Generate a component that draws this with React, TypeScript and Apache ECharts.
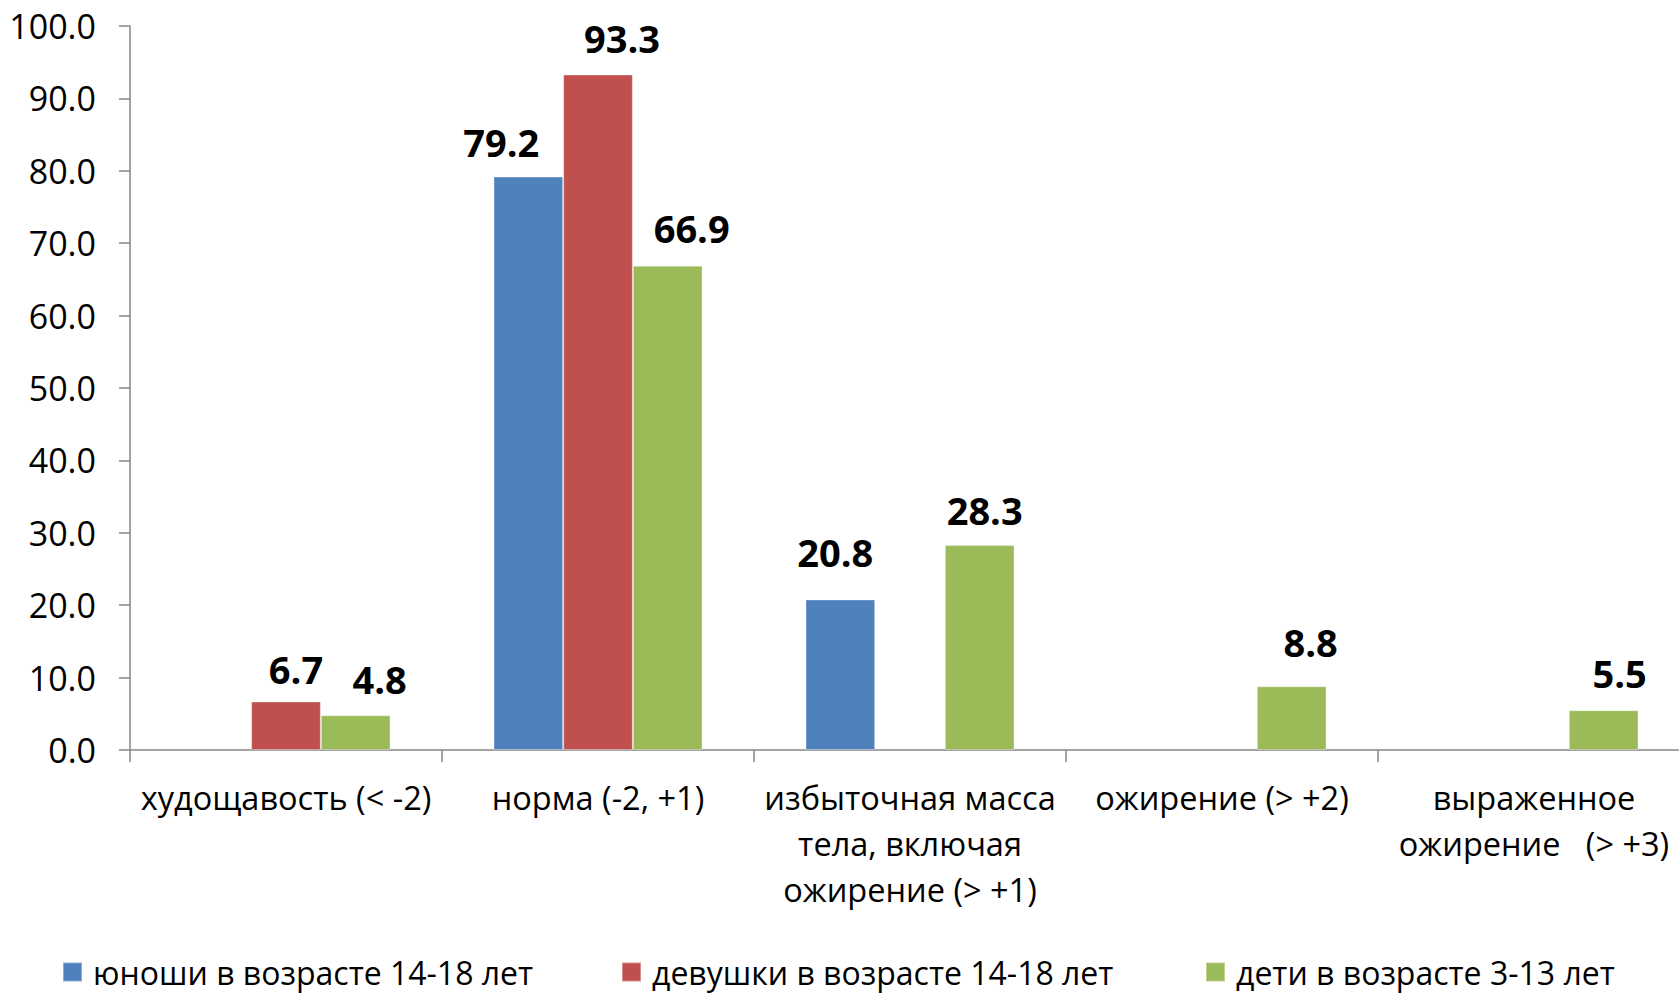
import React, { useEffect, useRef } from "react";
import * as echarts from "echarts";

const categories = [
  "худощавость (< -2)",
  "норма (-2, +1)",
  "избыточная масса\nтела, включая\nожирение (> +1)",
  "ожирение (> +2)",
  "выраженное\nожирение   (> +3)",
];
const seriesNames = [
  "юноши в возрасте 14-18 лет",
  "девушки в возрасте 14-18 лет",
  "дети в возрасте 3-13 лет",
];
const boys: (number | null)[] = [null, 79.2, 20.8, null, null];
const girls: (number | null)[] = [6.7, 93.3, null, null, null];
const children: (number | null)[] = [4.8, 66.9, 28.3, 8.8, 5.5];
const colors = ["#4F81BD", "#C0504D", "#9BBB59"];
const legendLefts = [62, 621, 1205];

// label nudges (px) as placed in the original chart
const labelOffsets: [number, number][][] = [
  [[0, 0], [-27, 1], [-5, -11], [0, 0], [0, 0]],
  [[10, 4], [24, -1], [0, 0], [0, 0], [0, 0]],
  [[24, 0], [24, -2], [5, 1], [19, -8], [16, -1]],
];

const FONT = "'Open Sans', 'Noto Sans', sans-serif";

export default function App() {
  const ref = useRef<HTMLDivElement>(null);
  useEffect(() => {
    if (!ref.current) return;
    const chart = echarts.init(ref.current, null, { renderer: "svg" });
    const values = [boys, girls, children];
    chart.setOption({
      animation: false,
      textStyle: { fontFamily: FONT },
      grid: { left: 130, right: 0, top: 26, bottom: 244, containLabel: false },
      legend: seriesNames.map((n, i) => ({
        data: [n],
        left: legendLefts[i],
        top: 955,
        padding: 0,
        icon: "rect",
        itemWidth: 19,
        itemHeight: 19,
        itemGap: 0,
        textStyle: { fontFamily: FONT, fontSize: 32, lineHeight: 34, color: "#000", padding: [0, 0, 0, 6] },
      })),
      xAxis: {
        type: "category",
        data: categories,
        axisLine: { lineStyle: { color: "#868686", width: 1.5 } },
        axisTick: { show: true, length: 12, alignWithLabel: false, lineStyle: { color: "#868686", width: 1.5 } },
        axisLabel: {
          interval: 0,
          margin: 24,
          fontFamily: FONT,
          fontSize: 32.5,
          lineHeight: 46,
          color: "#000",
          align: "center",
        },
        splitLine: { show: false },
      },
      yAxis: {
        type: "value",
        min: 0,
        max: 100,
        interval: 10,
        axisLine: { show: true, lineStyle: { color: "#868686", width: 1.5 } },
        axisTick: { show: true, length: 11, lineStyle: { color: "#868686", width: 1.5 } },
        axisLabel: {
          margin: 34,
          fontFamily: FONT,
          fontSize: 34,
          color: "#000",
          formatter: (v: number) => v.toFixed(1),
        },
        splitLine: { show: false },
      },
      series: seriesNames.map((n, i) => ({
        name: n,
        type: "bar",
        data: values[i].map((v, j) => ({
          value: v,
          label: { offset: labelOffsets[i][j] },
        })),
        barGap: "0%",
        barCategoryGap: "33%",
        itemStyle: { color: colors[i], borderColor: "rgba(255,255,255,0.35)", borderWidth: 1 },
        label: {
          show: true,
          position: "top",
          distance: 17,
          fontFamily: FONT,
          fontSize: 38,
          fontWeight: "bold",
          color: "#000",
          formatter: (p: any) => (p.value == null ? "" : Number(p.value).toFixed(1)),
        },
      })),
    });
    return () => chart.dispose();
  }, []);
  return (
    <div style={{ position: "absolute", left: 0, top: 0, width: 1679, height: 994, overflow: "hidden", background: "#fff" }}>
      <div ref={ref} style={{ position: "absolute", left: 0, top: 0, width: 1690, height: 994 }} />
    </div>
  );
}
